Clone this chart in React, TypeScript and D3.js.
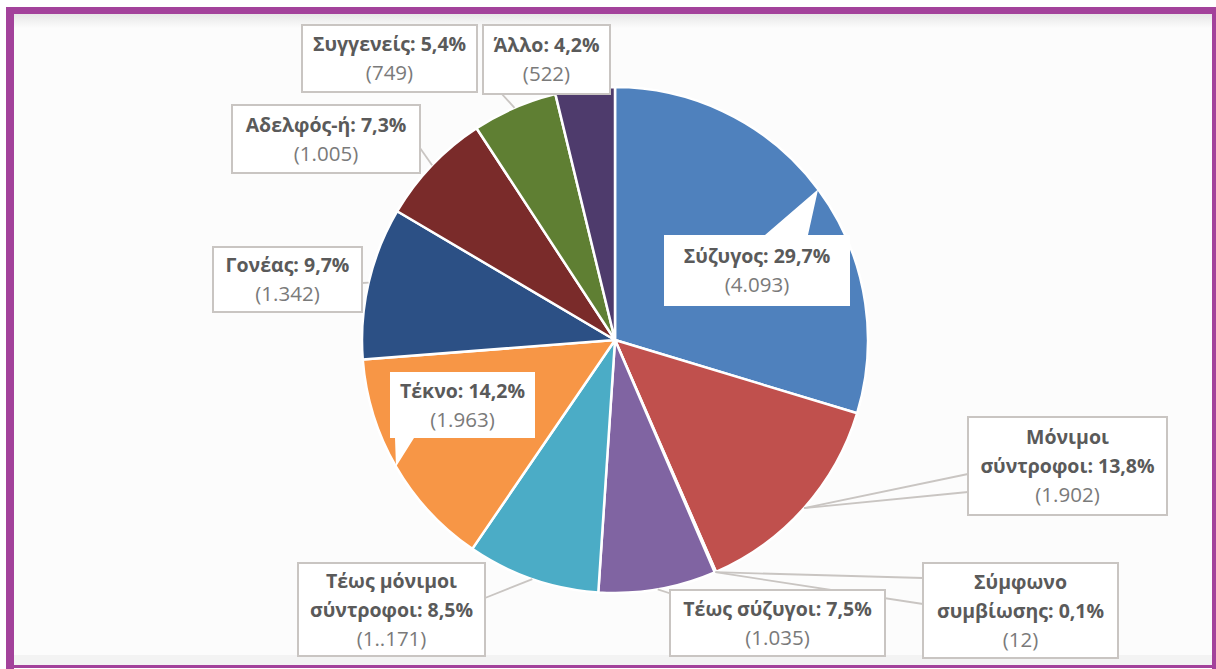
import React from 'react';
import * as d3 from 'd3';

const categories = ['Σύζυγος', 'Μόνιμοι σύντροφοι', 'Σύμφωνο συμβίωσης', 'Τέως σύζυγοι', 'Τέως μόνιμοι σύντροφοι', 'Τέκνο', 'Γονέας', 'Αδελφός-ή', 'Συγγενείς', 'Άλλο'];
const counts = [4093, 1902, 12, 1035, 1171, 1963, 1342, 1005, 749, 522];
const percentLabels = ['29,7%', '13,8%', '0,1%', '7,5%', '8,5%', '14,2%', '9,7%', '7,3%', '5,4%', '4,2%'];
const countLabels = ['(4.093)', '(1.902)', '(12)', '(1.035)', '(1..171)', '(1.963)', '(1.342)', '(1.005)', '(749)', '(522)'];

const colors = ['#4f81bd', '#c0504d', '#9bbb59', '#8064a2', '#4bacc6', '#f79646', '#2c5085', '#7a2b2a', '#5f7f33', '#4e3b6c'];

// layout of label boxes (positions/styles only)
type Box = { x: number; y: number; w: number; h: number; split: number; border: boolean; callout?: 'top' | 'bottom'; base?: [number, number]; anchors?: [number, number][] };
const boxes: Box[] = [
  { x: 664, y: 235, w: 186, h: 71, split: 0, border: false, callout: 'top', base: [765, 808] },
  { x: 968, y: 417, w: 199, h: 98, split: 1, border: true, anchors: [[968, 474], [968, 492]] },
  { x: 923, y: 563, w: 195, h: 95, split: 1, border: true, anchors: [[923, 578], [923, 604]] },
  { x: 670, y: 590, w: 215, h: 66, split: 0, border: true, anchors: [[672, 594]] },
  { x: 298, y: 563, w: 187, h: 93, split: 2, border: true, anchors: [[485, 598]] },
  { x: 390, y: 372, w: 145, h: 66, split: 0, border: false, callout: 'bottom', base: [395, 414] },
  { x: 213, y: 247, w: 149, h: 65, split: 0, border: true, anchors: [[362, 283]] },
  { x: 232, y: 105, w: 188, h: 68, split: 0, border: true, anchors: [[420, 148]] },
  { x: 302, y: 25, w: 175, h: 67, split: 0, border: true, anchors: [[500, 92]] },
  { x: 483, y: 25, w: 127, h: 69, split: 0, border: true, anchors: [] },
];

const W = 1216, H = 669;
const cx = 615, cy = 340, R = 253;
const FONT = "'Open Sans', 'Noto Sans', sans-serif";

export default function App() {
  const pie = d3.pie<number>().sort(null).value(d => d).startAngle(0).endAngle(2 * Math.PI);
  const arcs = pie(counts);
  const arc = d3.arc<d3.PieArcDatum<number>>().innerRadius(0).outerRadius(R);
  const edge = d3.arc<d3.PieArcDatum<number>>().innerRadius(R).outerRadius(R);

  const lineH = 29;

  return (
    <svg width={W} height={H} style={{ position: 'absolute', left: 0, top: 0 }} xmlns="http://www.w3.org/2000/svg">
      <defs>
        <linearGradient id="topShade" x1="0" y1="0" x2="0" y2="1">
          <stop offset="0" stopColor="#e6e6e6" />
          <stop offset="1" stopColor="#fcfcfc" />
        </linearGradient>
      </defs>
      <rect x={0} y={0} width={W} height={H} fill="#ffffff" />
      <rect x={14} y={14} width={1198} height={652} fill="#fcfcfc" />
      <rect x={14} y={14} width={1198} height={14} fill="url(#topShade)" />
      <rect x={14} y={655} width={1198} height={10} fill="#f3f3f3" />

      <g transform={`translate(${cx},${cy})`}>
        {arcs.map((a, i) => (
          <path key={i} d={arc(a) || ''} fill={colors[i]} stroke="#ffffff" strokeWidth={2.5} strokeLinejoin="round" />
        ))}
      </g>

      {/* leader lines */}
      {arcs.map((a, i) => {
        const [ex, ey] = edge.centroid(a);
        const px = cx + ex, py = cy + ey;
        const b = boxes[i];
        return (b.anchors || []).map((p, j) => (
          <line key={`${i}-${j}`} x1={px} y1={py} x2={p[0]} y2={p[1]} stroke="#c9c5c2" strokeWidth={1.8} />
        ));
      })}

      {/* label boxes */}
      {arcs.map((a, i) => {
        const b = boxes[i];
        const [ex, ey] = edge.centroid(a);
        const tx = cx + ex, ty = cy + ey;
        let shape: React.ReactNode;
        if (b.callout === 'top' && b.base) {
          const pts = [[b.x, b.y], [b.base[0], b.y], [tx, ty], [b.base[1], b.y], [b.x + b.w, b.y], [b.x + b.w, b.y + b.h], [b.x, b.y + b.h]];
          shape = <polygon points={pts.map(p => p.join(',')).join(' ')} fill="#ffffff" />;
        } else if (b.callout === 'bottom' && b.base) {
          const pts = [[b.x, b.y], [b.x + b.w, b.y], [b.x + b.w, b.y + b.h], [b.base[1], b.y + b.h], [tx, ty], [b.base[0], b.y + b.h], [b.x, b.y + b.h]];
          shape = <polygon points={pts.map(p => p.join(',')).join(' ')} fill="#ffffff" />;
        } else {
          shape = <rect x={b.x} y={b.y} width={b.w} height={b.h} fill="#ffffff" stroke="#c9c5c2" strokeWidth={2} />;
        }
        const words = categories[i].split(' ');
        const lines: { t: string; bold: boolean }[] = [];
        if (b.split > 0) {
          lines.push({ t: words.slice(0, b.split).join(' '), bold: true });
          lines.push({ t: words.slice(b.split).join(' ') + ': ' + percentLabels[i], bold: true });
        } else {
          lines.push({ t: categories[i] + ': ' + percentLabels[i], bold: true });
        }
        lines.push({ t: countLabels[i], bold: false });
        const midX = b.x + b.w / 2;
        const midY = b.y + b.h / 2;
        const firstY = midY - ((lines.length - 1) * lineH) / 2;
        return (
          <g key={i}>
            {shape}
            {lines.map((l, k) => (
              <text key={k} x={midX} y={firstY + k * lineH} dy="0.36em" textAnchor="middle"
                fontFamily={FONT} fontSize={l.bold ? 19.5 : 20.5} fontWeight={l.bold ? 700 : 400}
                fill={l.bold ? '#5a5a5a' : '#7a7a7a'}>{l.t}</text>
            ))}
          </g>
        );
      })}

      {/* frame */}
      <rect x={6} y={7} width={1210} height={7} fill="#a3429b" />
      <rect x={6} y={7} width={8} height={662} fill="#a3429b" />
      <rect x={1212} y={7} width={4} height={662} fill="#a3429b" />
      <rect x={6} y={665} width={1210} height={3} fill="#a3429b" />
    </svg>
  );
}
